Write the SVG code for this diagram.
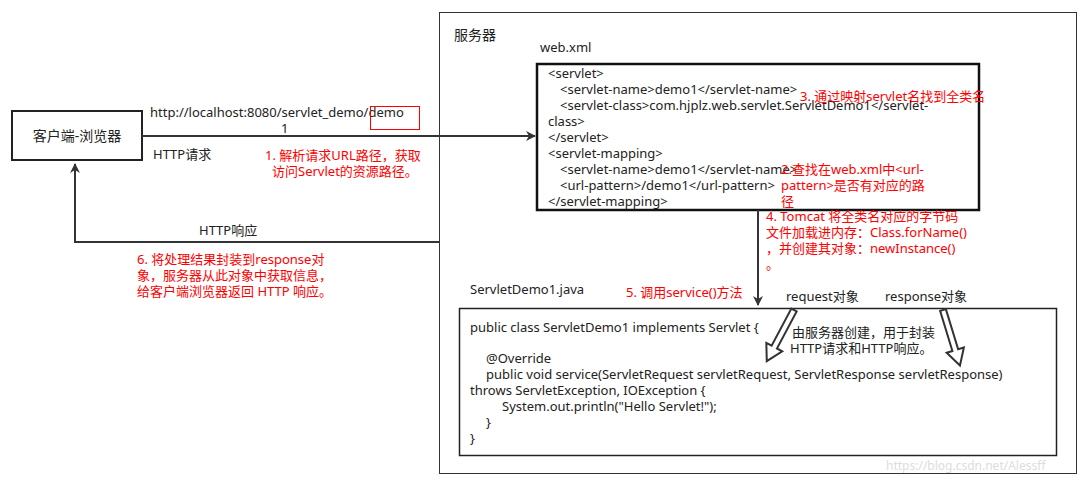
<svg xmlns="http://www.w3.org/2000/svg" width="1087" height="482" viewBox="0 0 1087 482">
<defs>
<style>
text{font-family:"Noto Sans","Noto Sans CJK SC",sans-serif;font-size:13px;fill:#222}
.r{fill:#f00}
.ln{stroke:#333;stroke-width:2;fill:none}
.ha{fill:#fff;stroke:#333;stroke-width:2;stroke-linejoin:miter}
</style>
<marker id="ah" markerWidth="10" markerHeight="10" refX="9" refY="5" orient="auto" markerUnits="userSpaceOnUse"><path d="M0,0 L10,5 L0,10 L3,5 Z" fill="#333"/></marker>
<polygon id="hollow" points="-3,0 3,0 3,42 9,42 0,58 -9,42 -3,42"/>
</defs>
<rect width="1087" height="482" fill="#fff"/>
<g id="server"><rect x="439.5" y="12.5" width="637" height="461" fill="none" stroke="#333" stroke-width="1"/><text x="454" y="40" style="font-size:14px">服务器</text></g>
<g id="client"><rect x="12" y="111" width="130" height="49" fill="#fff" stroke="#222" stroke-width="2"/><text x="77" y="141" text-anchor="middle" style="font-size:14px">客户端-浏览器</text></g>
<g id="webxml">
<text x="540" y="52">web.xml</text>
<rect x="537" y="64" width="442" height="146" fill="#fff" stroke="#111" stroke-width="2.5"/>
<text x="548" y="78">&lt;servlet&gt;</text>
<text x="560" y="94">&lt;servlet-name&gt;demo1&lt;/servlet-name&gt;</text>
<text x="560" y="110">&lt;servlet-class&gt;com.hjplz.web.servlet.ServletDemo1&lt;/servlet-</text>
<text x="548" y="126">class&gt;</text>
<text x="548" y="142">&lt;/servlet&gt;</text>
<text x="548" y="158">&lt;servlet-mapping&gt;</text>
<text x="560" y="174">&lt;servlet-name&gt;demo1&lt;/servlet-name&gt;</text>
<text x="560" y="190">&lt;url-pattern&gt;/demo1&lt;/url-pattern&gt;</text>
<text x="548" y="206">&lt;/servlet-mapping&gt;</text>
</g>
<g id="java">
<text x="470" y="294">ServletDemo1.java</text>
<rect x="459.5" y="308.5" width="597" height="147" fill="#fff" stroke="#222" stroke-width="1.5"/>
<text x="470" y="332">public class ServletDemo1 implements Servlet {</text>
<text x="486" y="363">@Override</text>
<text x="486" y="379">public void service(ServletRequest servletRequest, ServletResponse servletResponse)</text>
<text x="470" y="395">throws ServletException, IOException {</text>
<text x="502" y="411">System.out.println("Hello Servlet!");</text>
<text x="486" y="427">}</text>
<text x="470" y="443">}</text>
<text x="792" y="337">由服务器创建，用于封装</text>
<text x="790" y="353">HTTP请求和HTTP响应。</text>
</g>
<g id="connectors">
<path class="ln" d="M142,136 H535" marker-end="url(#ah)"/>
<path class="ln" d="M439,242 H75 V164" marker-end="url(#ah)"/>
<path class="ln" d="M758,210 V305" marker-end="url(#ah)"/>
<use href="#hollow" class="ha" transform="translate(794,310) rotate(28)"/>
<use href="#hollow" class="ha" transform="translate(943,310) rotate(-17)"/>
</g>
<g id="labels">
<text x="150" y="117">http://localhost:8080/servlet_demo/demo</text>
<text x="281" y="133">1</text>
<rect x="370.5" y="106.5" width="49" height="23" fill="none" stroke="#f00" stroke-width="1"/>
<text x="153" y="159">HTTP请求</text>
<text x="199" y="235">HTTP响应</text>
<text x="786" y="301">request对象</text>
<text x="885" y="301">response对象</text>
<text class="r" x="265" y="160">1. 解析请求URL路径，获取</text>
<text class="r" x="272" y="176">访问Servlet的资源路径。</text>
<text class="r" x="137" y="264">6. 将处理结果封装到response对</text>
<text class="r" x="137" y="280">象，服务器从此对象中获取信息，</text>
<text class="r" x="137" y="296">给客户端浏览器返回 HTTP 响应。</text>
<text class="r" x="800" y="101">3. 通过映射servlet名找到全类名</text>
<text class="r" x="781" y="174">2.查找在web.xml中&lt;url-</text>
<text class="r" x="781" y="190">pattern&gt;是否有对应的路</text>
<text class="r" x="781" y="206">径</text>
<text class="r" x="766" y="221">4. Tomcat 将全类名对应的字节码</text>
<text class="r" x="766" y="237">文件加载进内存：Class.forName()</text>
<text class="r" x="766" y="253">，并创建其对象：newInstance()</text>
<text class="r" x="766" y="269">。</text>
<text class="r" x="626" y="297">5. 调用service()方法</text>
<text x="886" y="470" style="fill:#ddd;font-size:12px">https://blog.csdn.net/Alessff</text>
</g>
</svg>
